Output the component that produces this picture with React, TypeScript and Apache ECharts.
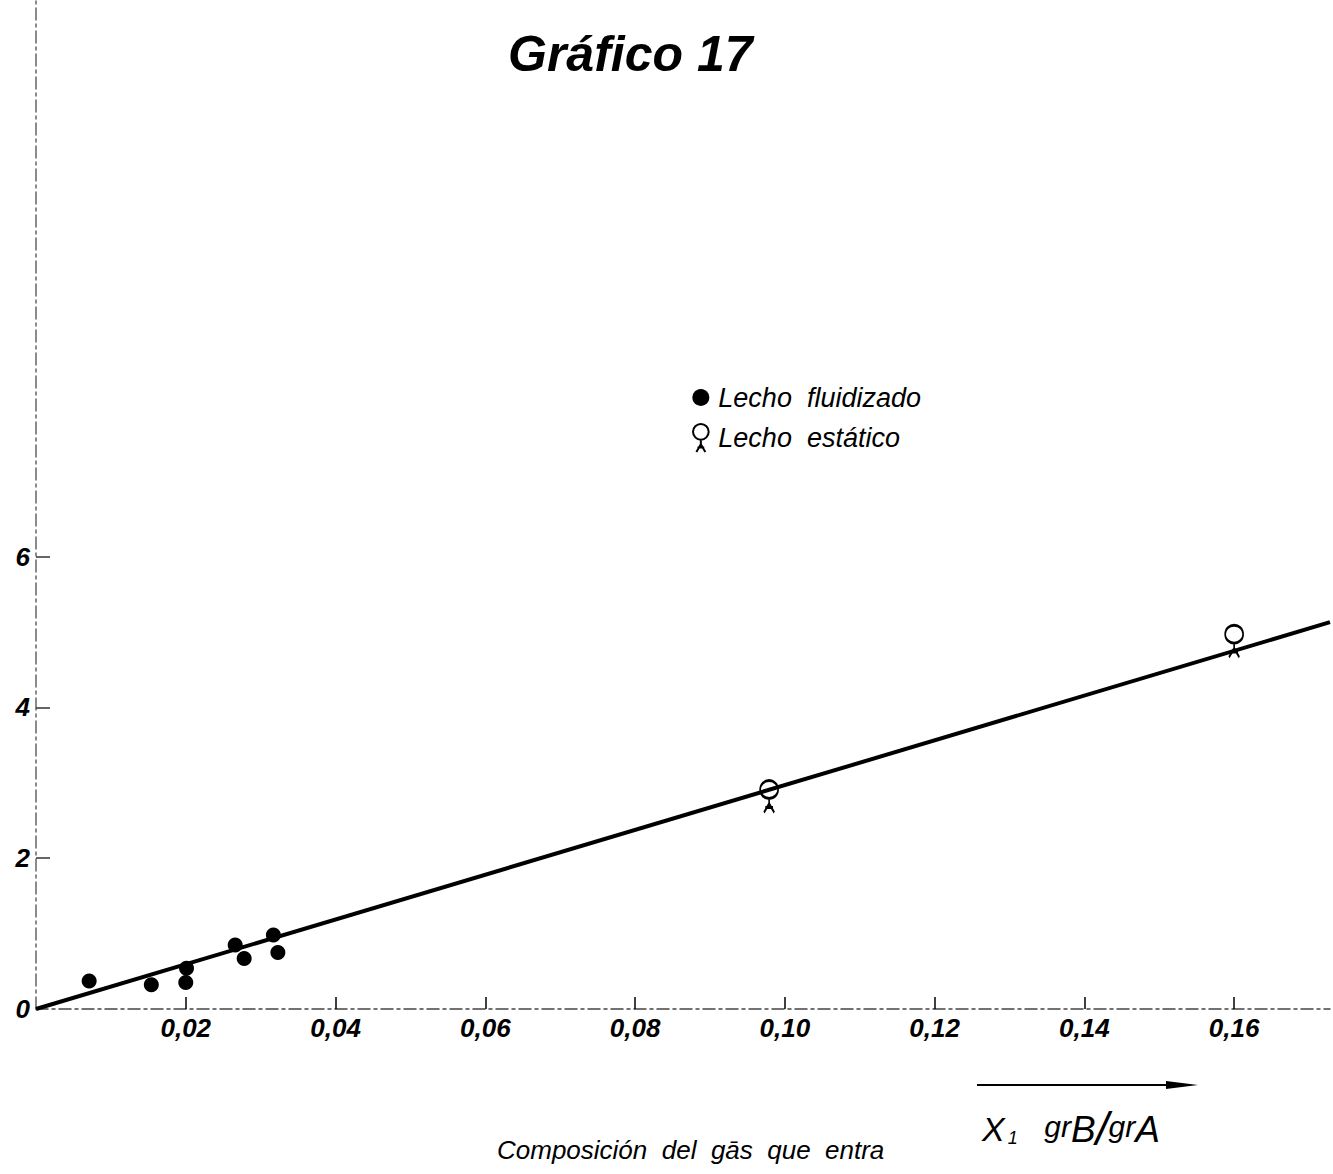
import React, { useEffect, useRef } from "react";
import * as echarts from "echarts";

const fluidizadoX = [0.0071, 0.0154, 0.0201, 0.0200, 0.0266, 0.0278, 0.0317, 0.0323];
const fluidizadoY = [0.37, 0.32, 0.54, 0.35, 0.85, 0.67, 0.98, 0.75];
const estaticoX = [0.0979, 0.160];
const estaticoY = [2.91, 4.97];
const fitX = [0, 0.1728];
const fitY = [0, 5.13];
const yTickValues = [0, 2, 4, 6];
const xTickValues = [0.02, 0.04, 0.06, 0.08, 0.1, 0.12, 0.14, 0.16];

const estaticoSymbol =
  "path://M3,8 C3,4.134 6.134,1 10,1 C13.866,1 17,4.134 17,8 C17,11.866 13.866,15 10,15 C6.134,15 3,11.866 3,8 Z M10,15 L10,19 M6,26 L10,19 L14,26 M7,22 L13,22";

const FONT = "'Liberation Sans', Arial, sans-serif";

export default function App() {
  const ref = useRef<HTMLDivElement>(null);
  useEffect(() => {
    if (!ref.current) return;
    const chart = echarts.init(ref.current, null, { renderer: "svg" });
    const zip = (xs: number[], ys: number[]) => xs.map((x, i) => [x, ys[i]]);
    chart.setOption({
      animation: false,
      backgroundColor: "#ffffff",
      title: {
        text: "Gráfico 17",
        left: 503,
        top: 24,
        textStyle: {
          fontFamily: FONT,
          fontSize: 50,
          fontStyle: "italic",
          fontWeight: "bold",
          color: "#000",
        },
      },
      legend: {
        orient: "vertical",
        left: 687,
        top: 379,
        itemGap: 12,
        itemWidth: 17,
        itemHeight: 28,
        textStyle: {
          fontFamily: FONT,
          fontSize: 27,
          fontStyle: "italic",
          color: "#000",
          padding: [0, 0, 0, 4],
        },
        data: [
          { name: "Lecho  fluidizado", icon: "circle", itemStyle: { color: "#000", opacity: 1 } },
          {
            name: "Lecho  estático",
            icon: estaticoSymbol,
            itemStyle: { color: "rgba(0,0,0,0)", borderColor: "#000", borderWidth: 2 },
          },
        ],
      },
      grid: { left: 36, right: 3, top: 0, bottom: 165, containLabel: false },
      xAxis: {
        type: "value",
        min: 0,
        max: 0.1728,
        interval: 0.02,
        splitLine: { show: false },
        axisLine: {
          show: true,
          lineStyle: { color: "#444", width: 1.5, type: [12, 4, 3, 4] },
        },
        axisTick: {
          show: true,
          inside: true,
          length: 12,
          customValues: xTickValues,
          lineStyle: { color: "#000", width: 1.5 },
        },
        axisLabel: {
          customValues: xTickValues,
          margin: 6,
          fontFamily: FONT,
          fontSize: 26,
          fontStyle: "italic",
          fontWeight: "bold",
          color: "#000",
          formatter: (v: number) => v.toFixed(2).replace(".", ","),
        },
      },
      yAxis: {
        type: "value",
        min: 0,
        max: 13.38,
        interval: 2,
        splitLine: { show: false },
        axisLine: {
          show: true,
          lineStyle: { color: "#666", width: 1.5, type: [12, 4, 3, 4] },
        },
        axisTick: {
          show: true,
          inside: true,
          length: 14,
          customValues: [2, 4, 6],
          lineStyle: { color: "#333", width: 1.5 },
        },
        axisLabel: {
          customValues: yTickValues,
          margin: 6,
          fontFamily: FONT,
          fontSize: 26,
          fontStyle: "italic",
          fontWeight: "bold",
          color: "#000",
          formatter: (v: number) => String(v),
        },
      },
      graphic: [
        {
          type: "line",
          shape: { x1: 977, y1: 1085, x2: 1172, y2: 1085 },
          style: { stroke: "#000", lineWidth: 2 },
        },
        {
          type: "polygon",
          shape: { points: [[1166, 1081], [1198, 1085], [1166, 1089]] },
          style: { fill: "#000" },
        },
        {
          type: "text",
          x: 982,
          y: 1106,
          style: {
            text: "{a|X}{s|1}        {g|gr}{c|B}{d|/}{g|gr}{c|A}",
            rich: {
              a: { fontFamily: FONT, fontSize: 34, fontStyle: "italic", fill: "#000" },
              s: { fontFamily: FONT, fontSize: 18, fontStyle: "italic", fill: "#000", padding: [18, 0, 0, 3] },
              g: { fontFamily: FONT, fontSize: 30, fontStyle: "italic", fill: "#000", padding: [0, 0, 6, 0] },
              c: { fontFamily: FONT, fontSize: 37, fontStyle: "italic", fill: "#000" },
              d: { fontFamily: FONT, fontSize: 46, fontStyle: "italic", fill: "#000" },
            },
          },
        },
        {
          type: "text",
          x: 497,
          y: 1137,
          style: {
            text: "Composición  del  gās  que  entra",
            fontFamily: FONT,
            fontSize: 26,
            fontStyle: "italic",
            fill: "#000",
          },
        },
      ],
      series: [
        {
          type: "line",
          data: zip(fitX, fitY),
          symbol: "none",
          lineStyle: { color: "#000", width: 4 },
          silent: true,
          z: 2,
        },
        {
          name: "Lecho  fluidizado",
          type: "scatter",
          data: zip(fluidizadoX, fluidizadoY),
          symbol: "circle",
          symbolSize: 15,
          itemStyle: { color: "#000", opacity: 1 },
          z: 3,
        },
        {
          name: "Lecho  estático",
          type: "scatter",
          data: zip(estaticoX, estaticoY),
          symbol: estaticoSymbol,
          symbolSize: [18, 32],
          symbolOffset: [0, 7],
          itemStyle: { color: "rgba(0,0,0,0)", borderColor: "#000", borderWidth: 2.2, opacity: 1 },
          z: 3,
        },
      ],
    });
    return () => chart.dispose();
  }, []);
  return (
    <div
      ref={ref}
      style={{ position: "fixed", left: 0, top: 0, width: 1333, height: 1174, background: "#fff" }}
    />
  );
}
